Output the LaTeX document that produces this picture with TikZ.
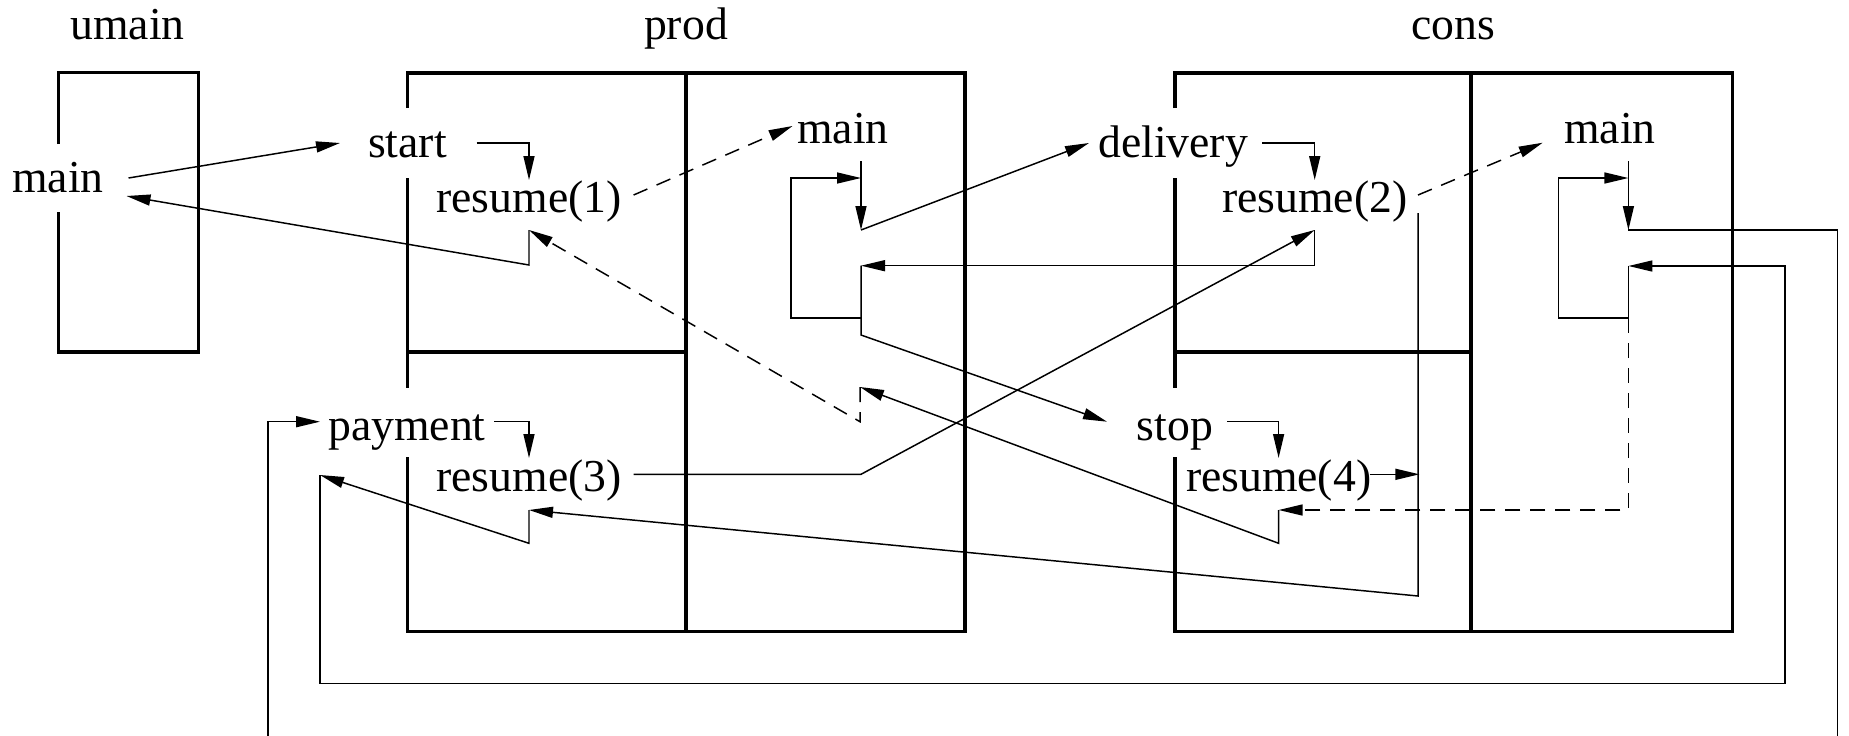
\documentclass[tikz,border=0pt]{standalone}
\usepackage{fontspec}
\setmainfont{Liberation Serif}
\usetikzlibrary{arrows.meta}

\begin{document}
\begin{tikzpicture}[x=0.1mm, y=-0.1mm,
    txt/.style={anchor=base, inner sep=0pt, font=\fontsize{13pt}{15pt}\selectfont},
    frame/.style={line width=0.9pt},
    plain/.style={line width=0.42pt},
    link/.style={plain, -{Triangle[length=2.4mm,width=1.1mm]}},
    back/.style={link, dash pattern=on 1.5mm off 1mm}]
  \useasboundingbox (0,0) rectangle (1849,735);

  % stacks
  \draw[frame] (58.5,144) |- (198.4,72.7) |- (58.5,352) -- (58.5,212);
  \foreach \l/\m/\r in {407.5/686/965, 1175/1471/1732.7}{
    \draw[frame] (\l,108) |- (\r,73) |- (\l,631.7) -- (\l,457);
    \draw[frame] (\l,178) -- (\l,388);
    \draw[frame] (\m,73) -- (\m,631.7);
    \draw[frame] (\l,352) -- (\m,352);
  }

  \node[txt] (umain) at (127.5,39) {umain};
  \node[txt] (prod) at (686,39) {prod};
  \node[txt] (cons) at (1453,39) {cons};
  \node[txt] (m0) at (58,192) {main};
  \node[txt] (start) at (407.5,157) {start};
  \node[txt] (res1) at (529,212) {resume(1)};
  \node[txt] (m1) at (843,143) {main};
  \node[txt] (delivery) at (1173,157) {delivery};
  \node[txt] (res2) at (1314.7,212) {resume(2)};
  \node[txt] (m2) at (1610,143) {main};
  \node[txt] (payment) at (407,440) {payment};
  \node[txt] (res3) at (529,491.7) {resume(3)};
  \node[txt] (stop) at (1175,440) {stop};
  \node[txt] (res4) at (1278.6,491.7) {resume(4)};

  \coordinate (m0out) at (128.5,178);
  \coordinate (m0in) at (126.5,196);
  \coordinate (startin) at (340,143);
  \coordinate (startout) at (476.5,143);
  \coordinate (res1top) at (529,180);
  \coordinate (res1end) at (633.6,195);
  \coordinate (res1in) at (529,230);
  \coordinate (res1out) at (529,265);
  \coordinate (m1in) at (792.6,126);
  \coordinate (m1top) at (861,161);
  \coordinate (m1go) at (861,230);
  \coordinate (m1back) at (861,265.7);
  \coordinate (m1lp) at (861,318);
  \coordinate (m1loop) at (791,178);
  \coordinate (m1mark) at (861,178);
  \coordinate (m1exit) at (861,335);
  \coordinate (m1ret) at (860,387);
  \coordinate (m1ret2) at (860,421.7);
  \coordinate (m1via) at (861,474.3);
  \coordinate (delin) at (1089,143);
  \coordinate (delout) at (1262,143);
  \coordinate (res2top) at (1314.7,180);
  \coordinate (res2end) at (1418,195);
  \coordinate (res2in) at (1314.7,230);
  \coordinate (res2out) at (1314.7,265.7);
  \coordinate (res2down) at (1418,213);
  \coordinate (m2in) at (1542.7,142.7);
  \coordinate (m2top) at (1628.4,161);
  \coordinate (m2go) at (1628.4,230);
  \coordinate (m2back) at (1628.4,266);
  \coordinate (m2lp) at (1628.4,318);
  \coordinate (m2loop) at (1558.4,178);
  \coordinate (m2mark) at (1628.4,178);
  \coordinate (payin) at (320,421.7);
  \coordinate (payout) at (494,421.7);
  \coordinate (payret) at (320,475);
  \coordinate (res3top) at (529,458);
  \coordinate (res3end) at (633.6,474.3);
  \coordinate (res3in) at (529,510);
  \coordinate (res3out) at (529,543.3);
  \coordinate (stopin) at (1107,421.7);
  \coordinate (stopout) at (1227,421.7);
  \coordinate (res4top) at (1278.6,458);
  \coordinate (res4end) at (1369.7,474.3);
  \coordinate (res4tip) at (1419.4,474.3);
  \coordinate (res4in) at (1278.6,510);
  \coordinate (res4out) at (1278.6,543.3);

  % calls and resumes
  \draw[link] (m0out) -- (startin);
  \draw[link] (startout) -| (res1top);
  \draw[back] (res1end) -- (m1in);
  \draw[link] (res1in) -- (res1out) -- (m0in);
  \draw[link] (m1top) -- (m1go);
  \draw[link] (m1lp) -| (m1loop) -- (m1mark);
  \draw[link] (m1go) -- (delin);
  \draw[link] (delout) -| (res2top);
  \draw[back] (res2end) -- (m2in);
  \draw[link] (m2top) -- (m2go);
  \draw[link] (m2lp) -| (m2loop) -- (m2mark);
  \begin{scope}
    \clip (0,0) rectangle (1849,735);
    \draw[link] (m2go) -- (1837.4,230) -- (1837.4,760) -| (268,421.7) -- (payin);
  \end{scope}
  \draw[link] (payout) -| (res3top);
  \draw[link] (res3end) -- (m1via) -- (res2in);
  \draw[link] (res2in) -- (res2out) -- (m1back);
  \draw[link] (m1back) -- (m1exit) -- (stopin);
  \draw[link] (stopout) -| (res4top);
  \draw[link] (res4end) -- (res4tip);
  \draw[link] (res2down) -- (1418,596) -- (res3in);
  \draw[link] (res3in) -- (res3out) -- (payret);
  \draw[link] (payret) |- (1784.9,683.3) |- (m2back);
  \draw[plain] (m2back) -- (m2lp);
  \draw[back] (m2lp) |- (res4in);
  \draw[link] (res4in) -- (res4out) -- (m1ret);
  \draw[back] (m1ret) -- (m1ret2) -- (res1in);
\end{tikzpicture}
\end{document}
